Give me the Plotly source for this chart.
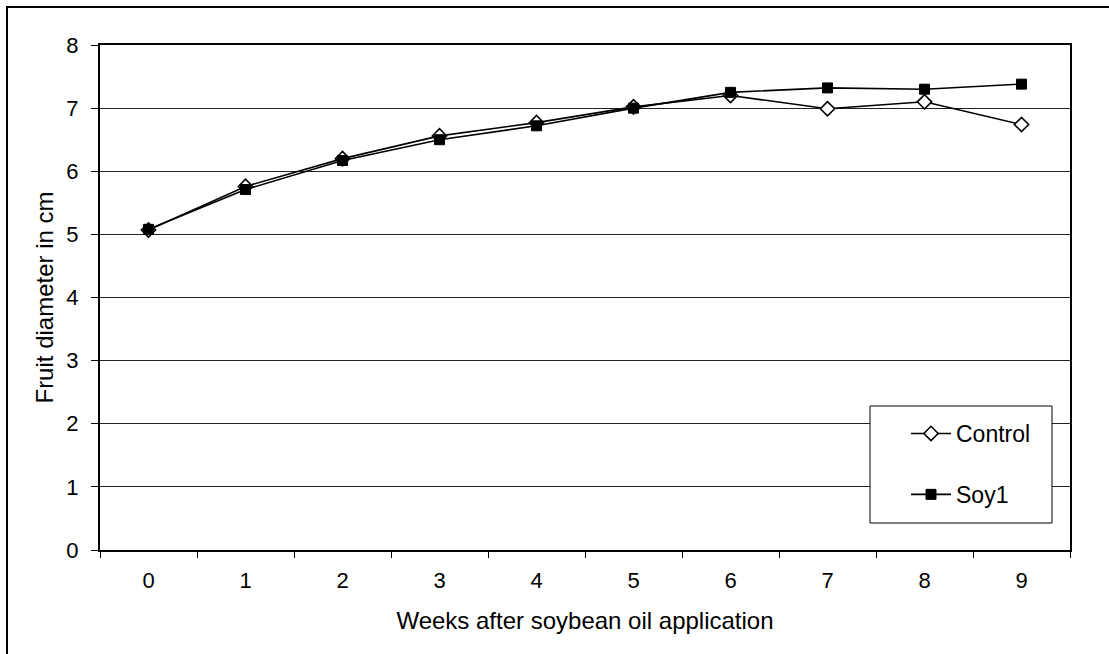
import plotly.graph_objects as go

# Weekly fruit diameter measurements (cm)
weeks = ["0", "1", "2", "3", "4", "5", "6", "7", "8", "9"]
control = [5.07, 5.76, 6.20, 6.56, 6.77, 7.02, 7.20, 6.99, 7.10, 6.74]
soy1 = [5.08, 5.71, 6.17, 6.50, 6.72, 7.00, 7.25, 7.32, 7.30, 7.38]

y_ticks = [0, 1, 2, 3, 4, 5, 6, 7, 8]

FONT = "Liberation Sans, Arial, sans-serif"
W, H = 1109, 654
ML, MR, MT, MB = 100, 39, 45, 104
pw, ph = W - ML - MR, H - MT - MB


def px_x(px):
    return (px - ML) / pw


def px_y(py):
    return (H - MB - py) / ph


fig = go.Figure()
fig.add_trace(go.Scatter(
    x=weeks, y=control, name="Control", mode="lines+markers",
    line=dict(color="black", width=1.6),
    marker=dict(symbol="diamond", size=11, color="white",
                line=dict(color="black", width=1.6)),
    legendgroup="a",
))
fig.add_trace(go.Scatter(
    x=weeks, y=soy1, name="Soy1", mode="lines+markers",
    line=dict(color="black", width=1.6),
    marker=dict(symbol="square", size=10, color="black",
                line=dict(color="black", width=1)),
    legendgroup="b",
))

fig.update_layout(
    width=W, height=H,
    margin=dict(l=ML, r=MR, t=MT, b=MB),
    paper_bgcolor="white", plot_bgcolor="white",
    font=dict(family=FONT, size=22, color="black"),
    showlegend=True,
    legend=dict(
        x=px_x(906), y=px_y(412), xanchor="left", yanchor="top",
        bgcolor="rgba(0,0,0,0)", borderwidth=0, itemwidth=40,
        font=dict(size=23), traceorder="grouped", tracegroupgap=28,
    ),
    xaxis=dict(
        type="category", categoryorder="array", categoryarray=weeks,
        range=[-0.5, 9.5],
        showgrid=False, zeroline=False,
        showline=True, linecolor="black", linewidth=1.5, mirror=True,
        ticks="outside", tickson="boundaries", ticklen=6, tickcolor="black",
        tickwidth=1, ticklabelstandoff=10,
        title=dict(text="Weeks after soybean oil application",
                   font=dict(size=24), standoff=20),
    ),
    yaxis=dict(
        range=[0, 8], tickvals=y_ticks,
        showgrid=True, gridcolor="#222", gridwidth=1,
        zeroline=False,
        showline=True, linecolor="black", linewidth=2, mirror=True,
        ticks="outside", ticklen=7, tickcolor="black", tickwidth=1,
        ticklabelstandoff=8,
        title=dict(text="Fruit diameter in cm", font=dict(size=24), standoff=6),
    ),
    shapes=[
        # outer chart frame
        dict(type="rect", xref="paper", yref="paper",
             x0=px_x(7), x1=px_x(W + 20), y0=px_y(H + 20), y1=px_y(7),
             line=dict(color="black", width=2), fillcolor="rgba(0,0,0,0)",
             layer="above"),
        # legend box
        dict(type="rect", xref="paper", yref="paper",
             x0=px_x(870), x1=px_x(1052), y0=px_y(523), y1=px_y(406),
             line=dict(color="black", width=1), fillcolor="white",
             layer="above"),
    ],
)

fig.write_html("out.html")
